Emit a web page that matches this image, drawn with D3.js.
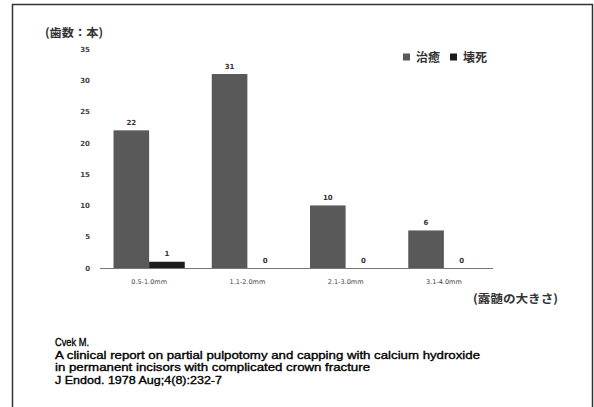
<!DOCTYPE html>
<html>
<head>
<meta charset="utf-8">
<script src="https://cdn.jsdelivr.net/npm/d3@7"></script>
<style>
  html, body { margin: 0; padding: 0; background: #fff; }
  svg { display: block; }
</style>
</head>
<body>
<svg id="chart" width="594" height="407"></svg>
<script>
// ---- data ----
const categories = ["0.5-1.0mm", "1.1-2.0mm", "2.1-3.0mm", "3.1-4.0mm"];
const seriesNames = ["治癒", "壊死"];
const healed = [22, 31, 10, 6];
const necrosis = [1, 0, 0, 0];
const yTicks = [0, 5, 10, 15, 20, 25, 30, 35];
const yAxisTitle = "(歯数：本)";
const xAxisTitle = "(露髄の大きさ)";
const citation = [
  "Cvek M.",
  "A clinical report on partial pulpotomy and capping with calcium hydroxide",
  "in permanent incisors with complicated crown fracture",
  "J Endod. 1978 Aug;4(8):232-7"
];

(function () {
const colors = ["#595959", "#1c1c1c"];
const svg = d3.select("#chart");

// frame
svg.append("rect")
  .attr("x", 12.5).attr("y", 4.5)
  .attr("width", 580).attr("height", 410)
  .attr("fill", "#fff")
  .attr("stroke", "#333").attr("stroke-width", 1.5);

const pl = 100, pr = 493, pt = 49, pb = 268;
const x = d3.scaleBand().domain(categories).range([pl, pr]).paddingInner(0.275).paddingOuter(0.1375);
const xs = d3.scaleBand().domain(seriesNames).range([0, x.bandwidth()]);
const y = d3.scaleLinear().domain([0, 35]).range([pb, pt]);

const data = categories.map((c, i) => ({ c, vals: [healed[i], necrosis[i]] }));

const g = svg.append("g");
const groups = g.selectAll("g.grp").data(data).join("g")
  .attr("transform", d => `translate(${x(d.c)},0)`);

groups.selectAll("rect").data(d => d.vals.map((v, j) => ({ v, s: seriesNames[j], j }))).join("rect")
  .attr("x", d => xs(d.s))
  .attr("y", d => y(d.v))
  .attr("width", xs.bandwidth())
  .attr("height", d => pb - y(d.v))
  .attr("fill", d => colors[d.j]);

groups.selectAll("text").data(d => d.vals.map((v, j) => ({ v, s: seriesNames[j] }))).join("text")
  .attr("x", d => xs(d.s) + xs.bandwidth() / 2)
  .attr("y", d => y(d.v) - 5.5)
  .attr("text-anchor", "middle")
  .attr("font-family", "DejaVu Sans, sans-serif")
  .attr("font-size", 7).attr("font-weight", "bold")
  .attr("fill", "#333")
  .text(d => d.v);

// baseline
g.append("line")
  .attr("x1", pl).attr("x2", pr)
  .attr("y1", pb + 0.5).attr("y2", pb + 0.5)
  .attr("stroke", "#777").attr("stroke-width", 1);

// y axis labels
const yAxis = d3.axisLeft(y).tickValues(yTicks).tickSize(0).tickPadding(0);
const ya = svg.append("g").attr("transform", `translate(90,0)`).call(yAxis);
ya.select(".domain").remove();
ya.selectAll("text")
  .attr("font-family", "DejaVu Sans, sans-serif")
  .attr("font-size", 7).attr("font-weight", "bold").attr("fill", "#444");

// x axis labels
const xAxis = d3.axisBottom(x).tickSize(0).tickPadding(0);
const xa = svg.append("g").attr("transform", `translate(0,${pb + 11})`).call(xAxis);
xa.select(".domain").remove();
xa.selectAll("text")
  .attr("font-family", "DejaVu Sans, sans-serif")
  .attr("font-size", 6.5).attr("fill", "#444");

const cjk = "'Noto Sans CJK JP', sans-serif";
// y title
svg.append("text").attr("x", 45).attr("y", 37)
  .attr("font-family", cjk).attr("font-size", 11.5).attr("font-weight", "bold")
  .attr("fill", "#333").attr("textLength", 58).attr("lengthAdjust", "spacingAndGlyphs")
  .text(yAxisTitle);

// x title
svg.append("text").attr("x", 473).attr("y", 303)
  .attr("font-family", cjk).attr("font-size", 11.5).attr("font-weight", "bold")
  .attr("fill", "#333").attr("textLength", 85).attr("lengthAdjust", "spacingAndGlyphs")
  .text(xAxisTitle);

// legend
const lg = svg.append("g").attr("transform", "translate(403,57)");
const legPos = [0, 47];
seriesNames.forEach((s, i) => {
  lg.append("rect").attr("x", legPos[i]).attr("y", -3.5).attr("width", 7).attr("height", 7).attr("fill", colors[i]);
  lg.append("text").attr("x", legPos[i] + 13).attr("y", 4.5)
    .attr("font-family", cjk).attr("font-size", 12).attr("font-weight", "bold")
    .attr("fill", "#333").text(s);
});

// citation (one text block, one line per tspan)
const citeW = [34, 425, 315, 167];
const cite = svg.append("text")
  .attr("font-family", "'Liberation Sans', Arial, sans-serif")
  .attr("font-size", 11)
  .attr("fill", "#000")
  .attr("stroke", "#000")
  .attr("stroke-width", 0.35);
cite.selectAll("tspan").data(citation).join("tspan")
  .attr("x", 55)
  .attr("y", (d, i) => 346 + i * 12.5)
  .attr("textLength", (d, i) => citeW[i])
  .attr("lengthAdjust", "spacingAndGlyphs")
  .text(d => d);
})();
</script>
</body>
</html>
